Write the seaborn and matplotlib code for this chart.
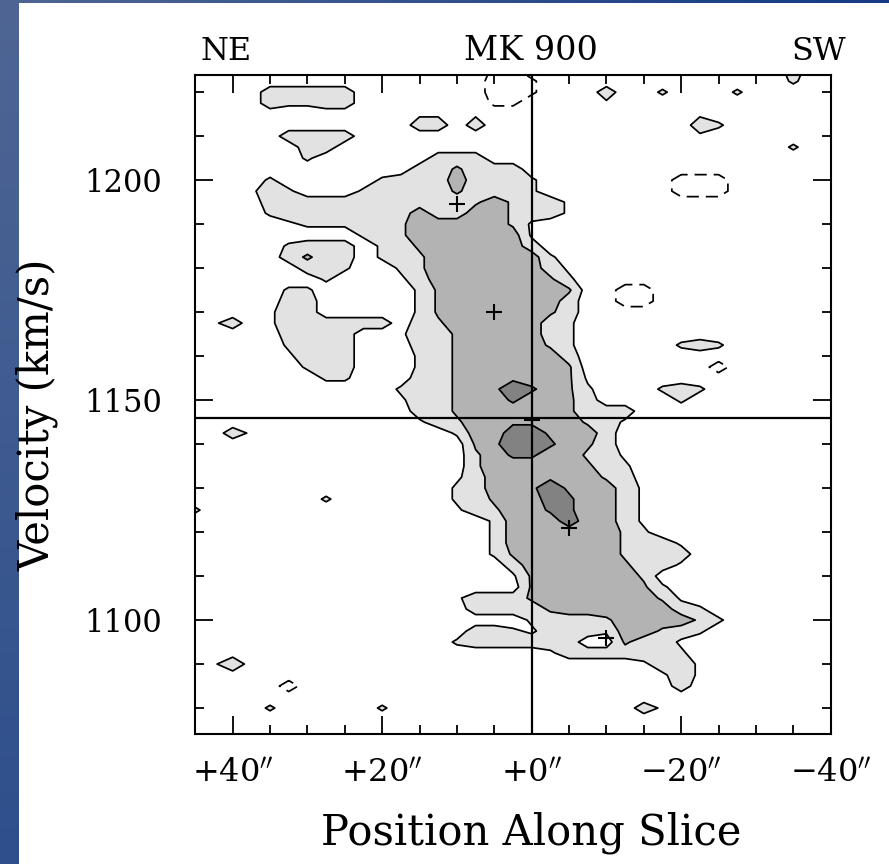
import numpy as np
import matplotlib
matplotlib.use("Agg")
import matplotlib.pyplot as plt
from matplotlib.ticker import FixedLocator, MultipleLocator
import seaborn as sns

# Position along the slice (arcsec, NE positive) and velocity channels (km/s)
positions = [45.0 - 2.5 * k for k in range(35)]
velocities = [1225.0 - 2.5 * k for k in range(61)]

# HI intensity in each (velocity, position) cell: '.' = no emission,
# digits = relative brightness, 'm' / 'n' = weak / stronger negative residual
intensity_rows = [
    "................mm..............3..",
    "................nnm.............2..",
    "....33333.......nnm...3..2...2.....",
    "....32233.......mm....1............",
    "............11.1...........1.......",
    "............33.3...........32......",
    ".....3333..................1.......",
    "......33........................2..",
    "......2......333...................",
    "............335333.................",
    "....2.....233363332.......nnn......",
    "...132...2333353332.......nnn......",
    "....33333333333464331..............",
    "....23333333633664331..............",
    ".....12223346666641................",
    ".........2346666661................",
    ".....2333.235666663................",
    ".....3533.2346666662...............",
    "......332..2466666631..............",
    ".......2...1366666652..............",
    ".....22.....256666665..nn..........",
    ".....33.....256666663..nn..........",
    "....133.....256666653..............",
    ".13.1333333.346666632..............",
    ".....3333..1335666632..............",
    ".....2333...335666642.....232......",
    ".....1333...235666663..............",
    "......233...235666665.......n......",
    ".......22...3356676651.............",
    "...........23356798652...232.......",
    "...........13356686653....2........",
    "............335666665333...........",
    "............134667766431...........",
    "..31..........266997663............",
    "...............57998653............",
    "...............468866431...........",
    "...............466666532...........",
    "..............1366676643...........",
    "..............23667976631..........",
    ".......2......23566986631..........",
    "2.............13466886631..........",
    "................266696631..........",
    "................266666642..........",
    "................26666664331........",
    "................25666664333........",
    ".................3666665331........",
    ".................15666664..........",
    "..................56666652.........",
    "..............1333566666641........",
    "...............3333566666632.......",
    "..................23334666642......",
    "...............3321333266432.......",
    "..............2333333..5331........",
    "...................13333332........",
    ".14.....................1331.......",
    ".........................131.......",
    ".....n....................3........",
    "...................................",
    "....2.....2.............31.........",
    "...................................",
    "...................................",
]

# Emission peaks
peak_pos = [10, 5, 0, -5, -10]
peak_vel = [1194.5, 1170, 1145.5, 1121, 1096]

# Systemic velocity and galaxy centre
v_sys = 1146
x_center = 0

contour_levels = [1.5, 4.5, 7.5]
fill_colors = ["#e2e2e2", "#b3b3b3", "#828282"]

x_ticks = [40, 20, 0, -20, -40]
x_tick_labels = [r"$+40^{\prime\prime}$", r"$+20^{\prime\prime}$", r"$+0^{\prime\prime}$",
                 r"$-20^{\prime\prime}$", r"$-40^{\prime\prime}$"]
y_ticks = [1100, 1150, 1200]
y_tick_labels = ["1100", "1150", "1200"]

CELL_CODES = {".": 0.0, "m": -2.0, "n": -3.0}


def decode(row):
    return [CELL_CODES[c] if c in CELL_CODES else float(c)
            for c in row.ljust(len(positions), ".")[:len(positions)]]


flux = np.array([decode(r) for r in intensity_rows])
X, Y = np.meshgrid(positions, velocities)

sns.set_theme(style="ticks")
plt.rcParams["font.family"] = ["DejaVu Serif"]
plt.rcParams["mathtext.fontset"] = "dejavuserif"
plt.rcParams["text.color"] = "black"
plt.rcParams["xtick.color"] = "black"
plt.rcParams["ytick.color"] = "black"
plt.rcParams["axes.labelcolor"] = "black"

W, H = 889, 864
fig = plt.figure(figsize=(W / 100, H / 100), dpi=100)
fig.patch.set_facecolor("white")

# slide background: blue band on the left and top edges
bg = fig.add_axes([0, 0, 1, 1], zorder=-5)
img = np.ones((H, W, 3))
left_w, top_h = 19, 3
t = np.linspace(0, 1, H)[:, None]
top_col = np.array([0.31, 0.40, 0.58])
bot_col = np.array([0.18, 0.31, 0.55])
img[:, :left_w, :] = (top_col * (1 - t) + bot_col * t)[:, None, :].repeat(left_w, axis=1)
s = np.linspace(0, 1, W)[:, None]
right_col = np.array([0.08, 0.23, 0.52])
img[:top_h, :, :] = (top_col * (1 - s) + right_col * s)[None, :, :].repeat(top_h, axis=0)
bg.imshow(img, aspect="auto", interpolation="bilinear")
bg.axis("off")

ax = fig.add_axes([195.3 / W, 1 - 734 / H, (830.7 - 195.3) / W, (734 - 75) / H])
ax.set_facecolor("white")

ax.contourf(X, Y, flux, levels=contour_levels + [20], colors=fill_colors, zorder=1)
ax.contour(X, Y, flux, levels=contour_levels, colors="black", linewidths=1.25, zorder=2)
ax.contour(X, Y, flux, levels=[-1.5], colors="black", linewidths=1.25,
           linestyles=[(0, (7, 4))], zorder=2)

ax.axvline(x_center, color="black", lw=1.6, zorder=3)
ax.axhline(v_sys, color="black", lw=1.6, zorder=3)

sns.scatterplot(x=peak_pos, y=peak_vel, marker="+", s=130, color="black",
                linewidth=1.5, ax=ax, zorder=4, legend=False)

ax.set_xlim(45, -40)
ax.set_ylim(1074.1, 1223.9)

ax.xaxis.set_major_locator(FixedLocator(x_ticks))
ax.xaxis.set_minor_locator(MultipleLocator(5))
ax.yaxis.set_major_locator(FixedLocator(y_ticks))
ax.yaxis.set_minor_locator(MultipleLocator(10))
ax.set_xticklabels(x_tick_labels, fontsize=23)
ax.set_yticklabels(y_tick_labels, fontsize=22)
ax.tick_params(which="both", direction="in", top=True, right=True, width=1.3,
               color="black", labelcolor="black")
ax.tick_params(which="major", length=13)
ax.tick_params(which="minor", length=6.5)
ax.tick_params(axis="x", which="major", pad=17)
ax.tick_params(axis="y", which="major", pad=24)
for sp in ax.spines.values():
    sp.set_linewidth(1.5)
    sp.set_color("black")
ax.set_xlabel("")
ax.set_ylabel("")

fig.text(200 / W, 1 - 60 / H, "NE", fontsize=23, ha="left", va="baseline")
fig.text(531 / W, 1 - 60 / H, "MK 900", fontsize=24, ha="center", va="baseline")
fig.text(846 / W, 1 - 60 / H, "SW", fontsize=23, ha="right", va="baseline")
fig.text(37 / W, 1 - 415 / H, "Velocity (km/s)", fontsize=30, rotation=90,
         ha="center", va="center")
fig.text(531 / W, 1 - 833 / H, "Position Along Slice", fontsize=30,
         ha="center", va="center")

fig.savefig("out.png", dpi=100)
